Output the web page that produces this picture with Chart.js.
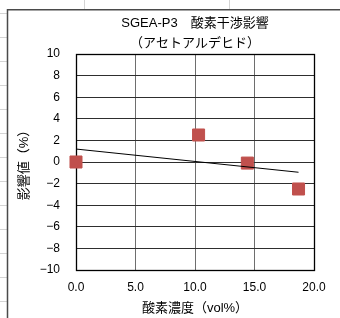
<!DOCTYPE html>
<html>
<head>
<meta charset="utf-8">
<script src="https://cdn.jsdelivr.net/npm/chart.js@4.4.0/dist/chart.umd.min.js"></script>
<style>
  html, body { margin: 0; padding: 0; background: #fff; }
  canvas { display: block; }
</style>
</head>
<body>
<canvas id="myChart" width="340" height="318"></canvas>
<script>
var oxygenConc = [0.0, 10.3, 14.4, 18.7];
var influence = [0.0, 2.5, -0.1, -2.5];

// linear trendline end points
var trendX = [0.0, 18.7];
var trendY = [1.2, -0.95];

var titleLines = ['SGEA-P3　酸素干渉影響', '（アセトアルデヒド）'];
var xTitle = '酸素濃度（vol%）';
var yTitle = '影響値（%）';

var FONT = '"Liberation Sans", "Noto Sans CJK JP", sans-serif';

// spreadsheet cells behind the chart object + the chart object frame
var sheetBg = {
  id: 'sheetBg',
  beforeDraw: function(chart) {
    var ctx = chart.ctx;
    ctx.save();
    ctx.fillStyle = '#fff';
    ctx.fillRect(0, 0, chart.width, chart.height);
    ctx.strokeStyle = '#d4d4d4';
    ctx.lineWidth = 1;
    ctx.beginPath();
    for (var y = 13; y < chart.height; y += 24) {
      ctx.moveTo(0, y + 0.5);
      ctx.lineTo(7, y + 0.5);
    }
    [84, 229].forEach(function(x) {
      ctx.moveTo(x + 0.5, 0);
      ctx.lineTo(x + 0.5, 9);
    });
    ctx.stroke();
    ctx.strokeStyle = '#4a4a4a';
    ctx.lineWidth = 1.5;
    ctx.beginPath();
    ctx.moveTo(7.5, chart.height);
    ctx.lineTo(7.5, 9.75);
    ctx.lineTo(chart.width, 9.75);
    ctx.stroke();
    ctx.restore();
  },
  beforeDatasetsDraw: function(chart) {
    var a = chart.chartArea, ctx = chart.ctx;
    ctx.save();
    ctx.strokeStyle = '#000';
    ctx.lineWidth = 1.3;
    ctx.strokeRect(Math.round(a.left) + 0.5, Math.round(a.top) + 0.5,
      Math.round(a.right - a.left), Math.round(a.bottom - a.top));
    ctx.restore();
  }
};

var ctx = document.getElementById('myChart');
var myChart = new Chart(ctx, {
  type: 'scatter',
  data: {
    datasets: [{
      label: 'trend',
      data: trendX.map(function(x, i) { return {x: x, y: trendY[i]}; }),
      showLine: true,
      borderColor: '#000',
      borderWidth: 1,
      pointRadius: 0,
      order: 0
    }, {
      label: 'data',
      data: oxygenConc.map(function(x, i) { return {x: x, y: influence[i]}; }),
      pointStyle: 'rect',
      pointRadius: 8.5,
      backgroundColor: '#C0504D',
      borderColor: '#C0504D',
      borderWidth: 1,
      clip: false,
      order: 1
    }]
  },
  options: {
    responsive: false,
    animation: false,
    layout: { padding: { left: 8, right: 26, top: 0, bottom: 0 } },
    plugins: {
      legend: { display: false },
      tooltip: { enabled: false },
      title: {
        display: true,
        fullSize: false,
        text: titleLines,
        color: '#000',
        font: { family: FONT, size: 13, weight: 'normal', lineHeight: '20px' },
        padding: { top: 13, bottom: 1 }
      }
    },
    scales: {
      x: {
        type: 'linear',
        min: 0,
        max: 20,
        afterFit: function(s) { s.height = 48; },
        ticks: {
          stepSize: 5,
          padding: 10,
          color: '#000',
          font: { family: FONT, size: 12 },
          callback: function(v) { return v.toFixed(1); }
        },
        grid: { color: '#6e6e6e', lineWidth: 1, drawTicks: false },
        border: { color: '#000' },
        title: {
          display: true,
          text: xTitle,
          color: '#000',
          font: { family: FONT, size: 13 },
          padding: { top: 0, bottom: 2 }
        }
      },
      y: {
        min: -10,
        max: 10,
        afterFit: function(s) { s.width = 68; },
        ticks: {
          stepSize: 2,
          padding: 16,
          color: '#000',
          font: { family: FONT, size: 12 },
          callback: function(v) { return v < 0 ? '−' + Math.abs(v) : String(v); }
        },
        grid: { color: '#2e2e2e', lineWidth: 1, drawTicks: false },
        border: { color: '#000' },
        title: {
          display: true,
          text: yTitle,
          color: '#000',
          font: { family: FONT, size: 13 },
          padding: { top: 9, bottom: 0 }
        }
      }
    }
  },
  plugins: [sheetBg]
});
</script>
</body>
</html>
